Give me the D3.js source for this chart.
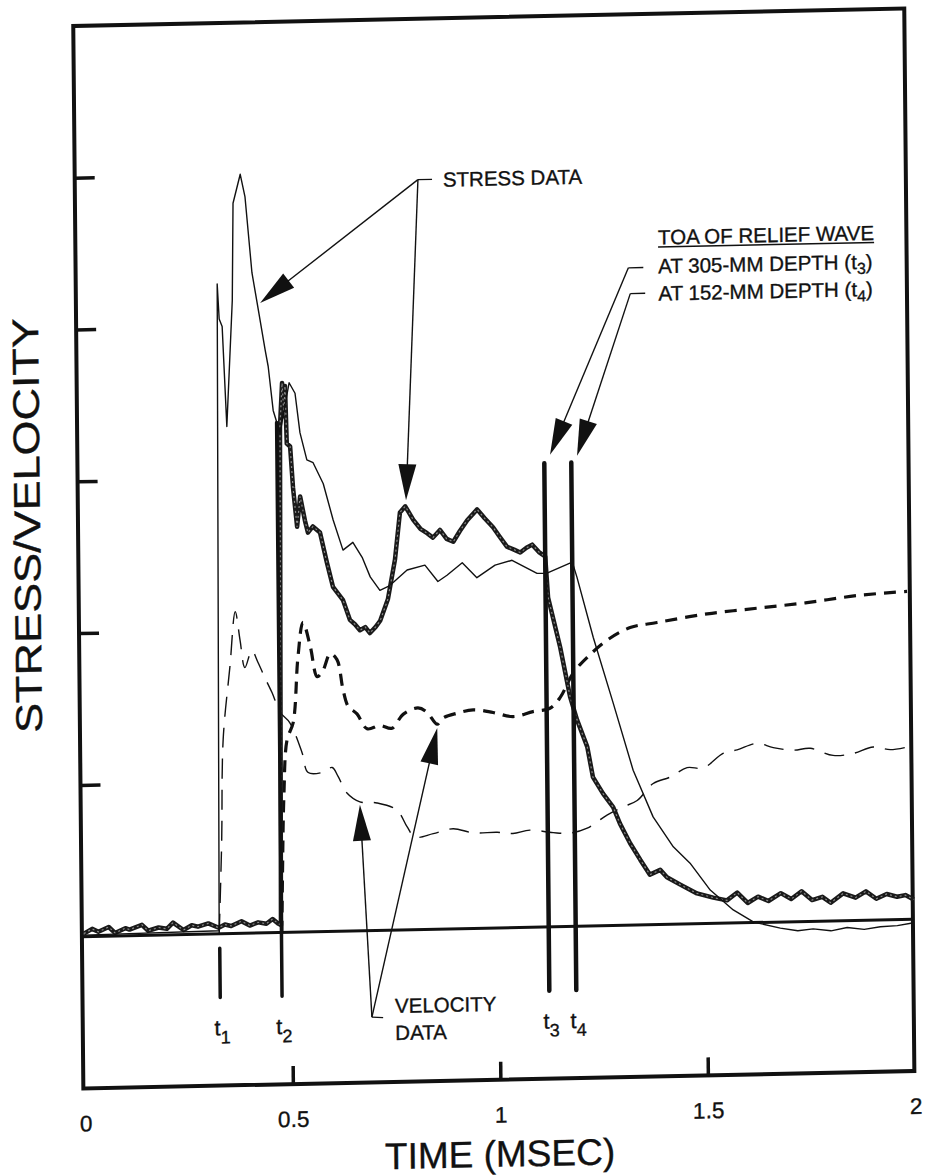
<!DOCTYPE html>
<html lang="en">
<head>
<meta charset="utf-8">
<title>Stress / velocity records</title>
<script src="https://cdn.jsdelivr.net/npm/d3@7"></script>
<style>
  body { margin: 0; background: #fff; }
  svg { display: block; }
  text { font-family: "Liberation Sans", Arial, Helvetica, sans-serif; fill: #111; stroke: #111; stroke-width: 0.35px; }
</style>
</head>
<body>
<script>
var w = 926, h = 1176;

// axes
var xTicks = [0, 0.5, 1, 1.5, 2];
var yTicks = [1, 2, 3, 4, 5];

// time of arrival markers: [label, time, top value]
var tMarks = [["1", 0.327, -0.095], ["2", 0.476, 3.36], ["3", 1.12, 3.055], ["4", 1.185, 3.055]];
var tMarkBottom = -0.42;

// stress, first gauge (thin solid)
var thinStress = [[0,0.01],[0.326,0.02],[0.336,4.28],[0.340,4.05],[0.347,4.0],[0.356,3.34],[0.372,4.17],
  [0.376,4.81],[0.394,5.0],[0.405,4.85],[0.420,4.35],[0.436,4.08],[0.450,3.84],[0.457,3.73],[0.468,3.44],
  [0.484,3.29],[0.507,3.62],[0.521,3.55],[0.532,3.29],[0.548,3.11],[0.563,3.09],[0.587,2.95],[0.610,2.71],
  [0.633,2.51],[0.657,2.56],[0.679,2.46],[0.698,2.33],[0.721,2.24],[0.745,2.27],[0.787,2.37],[0.830,2.40],
  [0.861,2.29],[0.883,2.33],[0.920,2.41],[0.955,2.31],[0.999,2.39],[1.040,2.42],[1.100,2.33],[1.124,2.33],
  [1.185,2.40],[1.196,2.30],[1.234,1.90],[1.280,1.47],[1.327,1.02],[1.374,0.71],[1.422,0.51],[1.462,0.40],
  [1.510,0.22],[1.565,0.086],[1.613,0.004],[1.678,-0.04],[1.72,-0.06],[1.757,-0.05],[1.80,-0.065],
  [1.839,-0.045],[1.88,-0.06],[1.919,-0.045],[1.96,-0.04],[1.996,-0.025]];

// stress, second gauge (heavy noisy line)
var thickStress = [[0,0.02],[0.02,0.05],[0.035,0.03],[0.06,0.06],[0.075,0.02],[0.10,0.05],[0.11,0.04],
  [0.14,0.07],[0.155,0.03],[0.18,0.05],[0.20,0.04],[0.215,0.08],[0.24,0.03],[0.26,0.06],[0.275,0.05],
  [0.30,0.07],[0.325,0.04],[0.34,0.06],[0.355,0.05],[0.38,0.08],[0.40,0.05],[0.42,0.07],[0.44,0.06],
  [0.455,0.09],[0.468,0.06],[0.475,0.05],[0.484,3.33],[0.490,3.62],[0.494,3.40],[0.497,3.60],[0.500,3.22],
  [0.508,3.20],[0.514,2.93],[0.523,2.67],[0.531,2.87],[0.542,2.71],[0.549,2.63],[0.561,2.67],[0.578,2.63],
  [0.594,2.43],[0.608,2.27],[0.632,2.18],[0.648,2.05],[0.66,2.02],[0.672,1.98],[0.685,2.0],[0.696,1.96],
  [0.71,2.0],[0.721,2.04],[0.740,2.18],[0.758,2.44],[0.771,2.75],[0.784,2.79],[0.803,2.70],[0.82,2.64],
  [0.836,2.61],[0.85,2.58],[0.867,2.63],[0.883,2.57],[0.899,2.55],[0.915,2.62],[0.933,2.69],[0.957,2.76],
  [0.975,2.70],[0.995,2.64],[1.01,2.58],[1.028,2.51],[1.045,2.49],[1.060,2.47],[1.075,2.50],[1.089,2.52],
  [1.105,2.47],[1.120,2.44],[1.126,2.17],[1.154,1.84],[1.177,1.51],[1.193,1.36],[1.217,1.18],[1.230,0.98],
  [1.254,0.87],[1.278,0.78],[1.294,0.67],[1.318,0.54],[1.342,0.43],[1.365,0.33],[1.390,0.36],[1.406,0.31],
  [1.438,0.26],[1.478,0.20],[1.517,0.17],[1.55,0.15],[1.575,0.20],[1.60,0.13],[1.625,0.17],[1.65,0.14],
  [1.68,0.19],[1.705,0.15],[1.73,0.20],[1.755,0.14],[1.78,0.16],[1.80,0.12],[1.83,0.18],[1.86,0.15],
  [1.885,0.19],[1.91,0.14],[1.935,0.17],[1.96,0.15],[1.98,0.16],[2.0,0.13]];

// velocity, first gauge (thin long dashes)
var thinVelocity = [[0.326,0.0],[0.334,0.6],[0.340,1.28],[0.358,1.76],[0.372,2.12],[0.383,1.93],[0.394,1.75],
  [0.411,1.86],[0.426,1.78],[0.442,1.68],[0.459,1.58],[0.478,1.45],[0.501,1.38],[0.530,1.18],[0.544,1.05],
  [0.580,1.05],[0.602,1.08],[0.616,1.02],[0.637,0.91],[0.668,0.85],[0.709,0.84],[0.757,0.79],[0.781,0.68],
  [0.800,0.61],[0.844,0.63],[0.892,0.66],[0.940,0.63],[0.998,0.63],[1.036,0.62],[1.077,0.64],[1.133,0.62],
  [1.174,0.615],[1.215,0.645],[1.264,0.73],[1.302,0.78],[1.336,0.82],[1.375,0.93],[1.416,0.97],[1.457,1.03],
  [1.496,1.025],[1.545,1.12],[1.578,1.14],[1.626,1.18],[1.665,1.15],[1.713,1.13],[1.754,1.14],[1.809,1.09],
  [1.857,1.10],[1.906,1.14],[1.947,1.12],[1.988,1.135]];

// velocity, second gauge (heavy short dashes)
var thickVelocity = [[0.477,0.0],[0.480,0.4],[0.485,0.9],[0.494,1.27],[0.509,1.38],[0.522,1.81],[0.535,2.04],
  [0.552,1.88],[0.568,1.68],[0.582,1.72],[0.600,1.83],[0.616,1.79],[0.630,1.59],[0.642,1.48],[0.663,1.43],
  [0.687,1.33],[0.718,1.35],[0.747,1.33],[0.774,1.42],[0.810,1.46],[0.832,1.43],[0.856,1.35],[0.870,1.39],
  [0.904,1.42],[0.943,1.44],[0.991,1.42],[1.039,1.39],[1.087,1.42],[1.128,1.44],[1.153,1.51],[1.185,1.67],
  [1.219,1.77],[1.267,1.88],[1.323,1.96],[1.388,1.99],[1.509,2.04],[1.629,2.07],[1.750,2.10],[1.871,2.14],
  [1.991,2.16]];

// callouts: leader start, elbow, arrow tips (time, value)
var stressLeader = [[0.856,4.94],[0.822,4.94]];
var stressTips = [[0.439,4.15],[0.786,2.83]];
var velocityLeader = [[0.719,-0.575],[0.692,-0.57]];
var velocityTips = [[0.668,0.83],[0.856,1.325]];
var toaLeaders = [[[1.363,4.33],[1.327,4.33],[1.134,3.11]], [[1.367,4.16],[1.331,4.16],[1.199,3.10]]];

var svg = d3.select("body").append("svg")
    .attr("width", w)
    .attr("height", h);

// the scanned page is slightly skewed
var g = svg.append("g").attr("transform", "matrix(1,-0.021,0.0095,1,0,0)");

var x = d3.scaleLinear().domain([0, 2]).range([75, 905]);
var y = d3.scaleLinear().domain([-1, 6]).range([1090, 27.5]);

// frame
g.append("rect")
    .attr("x", 73).attr("y", y(6))
    .attr("width", 904 - 73).attr("height", y(-1) - y(6))
    .attr("fill", "none").attr("stroke", "#111").attr("stroke-width", 4);

var yAxis = g.append("g")
    .attr("transform", "translate(73,0)")
    .call(d3.axisLeft(y).tickValues(yTicks).tickSize(-20).tickFormat(""));
yAxis.select(".domain").remove();
yAxis.selectAll("line").attr("stroke", "#111").attr("stroke-width", 3.5);

var xAxis = g.append("g")
    .attr("transform", "translate(0," + y(-1) + ")")
    .call(d3.axisBottom(x).tickValues(xTicks).tickSize(-18).tickPadding(27).tickFormat(function (d) { return d; }));
xAxis.select(".domain").remove();
xAxis.selectAll(".tick line")
    .attr("stroke", "#111").attr("stroke-width", 3.5)
    .filter(function (d) { return d == 0 || d == 2; }).remove();
xAxis.selectAll("text")
    .attr("font-size", 22.5)
    .attr("font-family", "Liberation Sans, Arial, sans-serif")
    .attr("fill", "#111");

// zero line
g.append("line")
    .attr("x1", 73).attr("x2", 904)
    .attr("y1", y(0)).attr("y2", y(0))
    .attr("stroke", "#111").attr("stroke-width", 3);

var line = d3.line()
    .x(function (d) { return x(d[0]); })
    .y(function (d) { return y(d[1]); });
var smooth = d3.line()
    .x(function (d) { return x(d[0]); })
    .y(function (d) { return y(d[1]); })
    .curve(d3.curveCatmullRom.alpha(0.5));

g.append("path").datum(thinVelocity)
    .attr("d", smooth)
    .attr("fill", "none").attr("stroke", "#111").attr("stroke-width", 1.4)
    .attr("stroke-dasharray", "20,11");

g.append("path").datum(thickVelocity)
    .attr("d", smooth)
    .attr("fill", "none").attr("stroke", "#111").attr("stroke-width", 3.2)
    .attr("stroke-dasharray", "12,8");

g.append("path").datum(thickStress)
    .attr("d", line)
    .attr("fill", "none").attr("stroke", "#1a1a1a").attr("stroke-width", 4.5)
    .attr("stroke-linejoin", "round");
g.append("path").datum(thickStress)
    .attr("d", line)
    .attr("fill", "none").attr("stroke", "#8a8a8a").attr("stroke-width", 1.2)
    .attr("stroke-dasharray", "2,3");

g.append("path").datum(thinStress)
    .attr("d", line)
    .attr("fill", "none").attr("stroke", "#111").attr("stroke-width", 1.4)
    .attr("stroke-linejoin", "round");

// arrival markers
g.selectAll(".tmark").data(tMarks).enter().append("line")
    .attr("class", "tmark")
    .attr("x1", function (d) { return x(d[1]); })
    .attr("x2", function (d) { return x(d[1]); })
    .attr("y1", function (d) { return y(d[2]); })
    .attr("y2", y(tMarkBottom))
    .attr("stroke", "#111")
    .attr("stroke-width", function (d, i) { return i < 2 ? 3.5 : 4.5; })
    .attr("stroke-linecap", "round");

var tLabels = g.selectAll(".tlabel").data(tMarks).enter().append("text")
    .attr("class", "tlabel")
    .attr("x", function (d) { return x(d[1]) + 2; })
    .attr("y", y(-0.67))
    .attr("text-anchor", "middle")
    .attr("font-size", 22);
tLabels.append("tspan").text("t");
tLabels.append("tspan").attr("dy", 8).attr("font-size", 18).text(function (d) { return d[0]; });

// callout arrows
function arrow(from, tip) {
    var x0 = x(from[0]), y0 = y(from[1]), x1 = x(tip[0]), y1 = y(tip[1]);
    var dx = x1 - x0, dy = y1 - y0, len = Math.sqrt(dx * dx + dy * dy);
    var ux = dx / len, uy = dy / len, L = 36, hw = 9;
    g.append("line")
        .attr("x1", x0).attr("y1", y0)
        .attr("x2", x1 - ux * L * 0.8).attr("y2", y1 - uy * L * 0.8)
        .attr("stroke", "#111").attr("stroke-width", 1.4);
    var bx = x1 - ux * L, by = y1 - uy * L;
    g.append("polygon")
        .attr("points", [[x1, y1], [bx - uy * hw, by + ux * hw], [bx + uy * hw, by - ux * hw]].join(" "))
        .attr("fill", "#111");
}
function leader(pts) {
    g.append("path").datum(pts).attr("d", line)
        .attr("fill", "none").attr("stroke", "#111").attr("stroke-width", 1.4);
}

leader(stressLeader);
stressTips.forEach(function (t) { arrow(stressLeader[1], t); });
leader(velocityLeader);
velocityTips.forEach(function (t) { arrow(velocityLeader[1], t); });
toaLeaders.forEach(function (p) {
    leader([p[0], p[1]]);
    arrow(p[1], p[2]);
});

// annotation text
g.append("text")
    .attr("x", x(0.882)).attr("y", y(4.89))
    .attr("font-size", 20.5)
    .text("STRESS DATA");

g.append("text")
    .attr("x", x(0.748)).attr("y", y(-0.546))
    .attr("font-size", 20.5)
    .text("VELOCITY");
g.append("text")
    .attr("x", x(0.748)).attr("y", y(-0.724))
    .attr("font-size", 20.5)
    .text("DATA");

var toa = g.append("text")
    .attr("x", x(1.399)).attr("y", y(4.48))
    .attr("font-size", 20.5)
    .text("TOA OF RELIEF WAVE");
var toaLen = toa.node().getComputedTextLength();
g.append("line")
    .attr("x1", x(1.399)).attr("x2", x(1.399) + toaLen)
    .attr("y1", y(4.48) + 2.5).attr("y2", y(4.48) + 2.5)
    .attr("stroke", "#111").attr("stroke-width", 1.5);

[["AT 305-MM DEPTH (t", "3", 4.29], ["AT 152-MM DEPTH (t", "4", 4.11]].forEach(function (r) {
    var t = g.append("text")
        .attr("x", x(1.399)).attr("y", y(r[2]))
        .attr("font-size", 20.5);
    t.append("tspan").text(r[0]);
    t.append("tspan").attr("dy", 5).attr("font-size", 16).text(r[1]);
    t.append("tspan").attr("dy", -5).text(")");
});

// axis titles
g.append("text")
    .attr("x", x(1) - 1).attr("y", 1177)
    .attr("text-anchor", "middle")
    .attr("font-size", 37)
    .text("TIME (MSEC)");

g.append("text")
    .attr("transform", "translate(35,526) rotate(-90)")
    .attr("text-anchor", "middle")
    .attr("font-size", 37)
    .attr("textLength", 415)
    .attr("lengthAdjust", "spacingAndGlyphs")
    .text("STRESS/VELOCITY");
</script>
</body>
</html>
